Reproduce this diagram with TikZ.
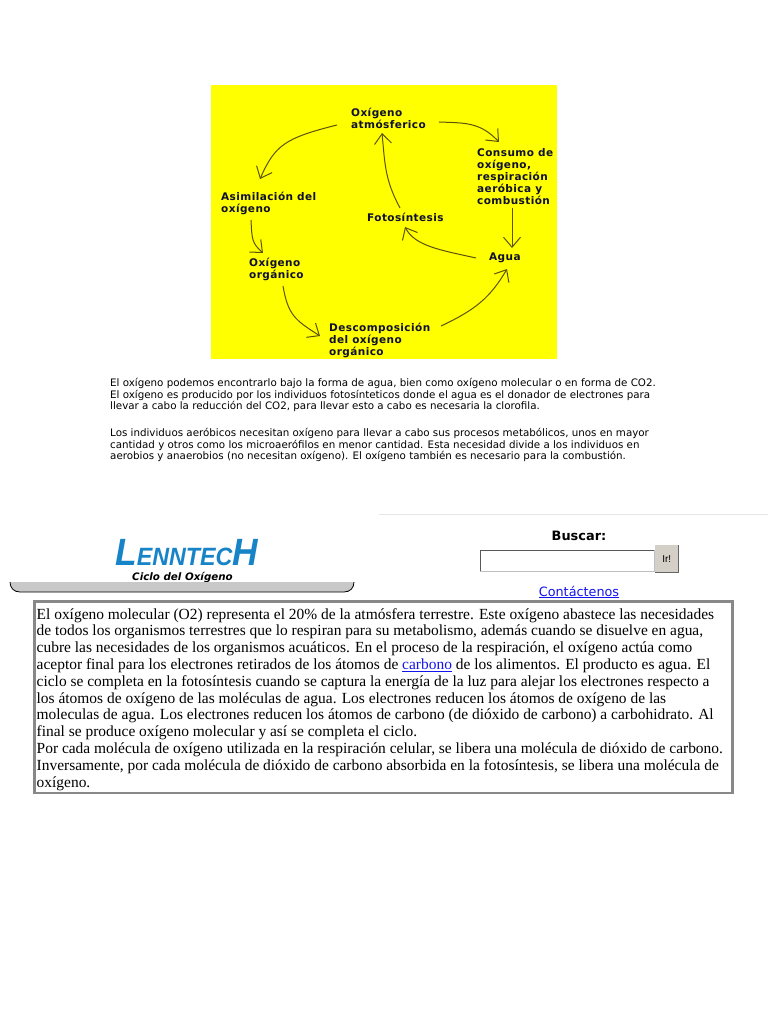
\documentclass[tikz,border=0pt]{standalone}
\usepackage{fontspec}
\usepackage{xcolor}
\usepackage{tikz}
\usetikzlibrary{arrows.meta,positioning,calc}
\setmainfont{Liberation Serif}
\newfontfamily\webfont{DejaVu Sans}
\newfontfamily\cyclefont[LetterSpace=4]{DejaVu Sans}
\newfontfamily\logofont{Liberation Sans}
\definecolor{cycleyellow}{RGB}{255,255,0}
\definecolor{cyclearrow}{RGB}{92,82,10}
\definecolor{cycletext}{RGB}{15,15,50}
\definecolor{logoblue}{RGB}{24,132,200}
\definecolor{linkblue}{RGB}{20,20,238}
\definecolor{barfill}{RGB}{200,200,200}
\definecolor{framegray}{RGB}{136,136,136}
\definecolor{buttonfill}{RGB}{212,208,200}

\begin{document}
\begin{tikzpicture}[x=1pt,y=-1pt,
    label/.style={anchor=north west, inner xsep=0pt, inner ysep=2pt, align=left, text=cycletext,
                  font=\fontsize{10.5}{12}\selectfont\cyclefont\bfseries},
    note/.style={anchor=north west, inner sep=0pt, align=left,
                 font=\fontsize{10.3}{11.6}\selectfont\webfont},
    arr/.style={-{Straight Barb[length=10pt,width=17pt]}, line width=1pt, cyclearrow}
]
    \useasboundingbox (0,0) rectangle (768,1024);
    \fill[white] (0,0) rectangle (768,1024);

    % cycle picture
    \node[draw=none, fill=cycleyellow, inner sep=0pt, minimum width=345.5pt, minimum height=274pt, anchor=north west] (panel) at (211,85) {};
    \node[label] (atmos) at (351,106) {Oxígeno\\atmósferico};
    \node[label] (consumo) at (477,146) {Consumo de\\oxígeno,\\respiración\\aeróbica y\\combustión};
    \node[label] (asim) at (221,190) {Asimilación del\\oxígeno};
    \node[label] (fotos) at (367,211) {Fotosíntesis};
    \node[label] (agua) at (489,251) {Agua};
    \node[label] (oxorg) at (249,256) {Oxígeno\\orgánico};
    \node[label] (descomp) at (329,321) {Descomposición\\del oxígeno\\orgánico};

    \draw[arr] ([shift={(-14,19)}]atmos.north west) .. controls (285,138) and (275,145) .. ([shift={(39,-11)}]asim.north west);
    \draw[arr] ([shift={(88,16)}]atmos.north west) .. controls (465,123) and (480,122) .. ([shift={(22,-4)}]consumo.north west);
    \draw[arr] ([shift={(33,-3)}]fotos.north west) .. controls (385,180) and (385,165) .. ([shift={(31,27)}]atmos.north west);
    \draw[arr] ([shift={(35,62)}]consumo.north west) -- ([shift={(23,-3)}]agua.north west);
    \draw[arr] ([shift={(-13,7)}]agua.north west) .. controls (440,250) and (415,246) .. ([shift={(38,16)}]fotos.north west);
    \draw[arr] ([shift={(30,30)}]asim.north west) .. controls (252,240) and (252,243) .. ([shift={(14,-3)}]oxorg.north west);
    \draw[arr] ([shift={(34,30)}]oxorg.north west) .. controls (288,315) and (295,320) .. ([shift={(-9,15)}]descomp.north west);
    \draw[arr] ([shift={(112,5)}]descomp.north west) .. controls (475,310) and (490,298) .. ([shift={(18,18)}]agua.north west);

    % notes below the picture
    \node[note] (notea) at (110,378) {El oxígeno podemos encontrarlo bajo la forma de agua, bien como oxígeno molecular o en forma de CO2.\\El oxígeno es producido por los individuos fotosínteticos donde el agua es el donador de electrones para\\llevar a cabo la reducción del CO2, para llevar esto a cabo es necesaria la clorofila.};
    \node[note] (noteb) at (110,428) {Los individuos aeróbicos necesitan oxígeno para llevar a cabo sus procesos metabólicos, unos en mayor\\cantidad y otros como los microaerófilos en menor cantidad. Esta necesidad divide a los individuos en\\aerobios y anaerobios (no necesitan oxígeno). El oxígeno también es necesario para la combustión.};

    % page header
    \draw[black!10, thick] (379,514) -- (768,514);
    \node[anchor=base west, inner sep=0pt, text=logoblue, font=\logofont\itshape\bfseries] (logo) at (115,565) {\scalebox{0.93}[1]{\fontsize{38}{38}\selectfont L\fontsize{25}{25}\selectfont ENNTEC\fontsize{38}{38}\selectfont H}};
    \node[anchor=center, inner sep=0pt, font=\fontsize{10.3}{11}\selectfont\webfont\itshape\bfseries] (title) at (182.5,577.5) {Ciclo del Oxígeno};
    \draw[fill=barfill, draw=none] (10,582) -- (354,582) .. controls (354,588) and (350,592) .. (344,592) -- (20,592) .. controls (14,592) and (10,588) .. (10,582) -- cycle;
    \draw[black, thick] (10,582) .. controls (10,588) and (14,592) .. (20,592) -- (344,592) .. controls (350,592) and (354,588) .. (354,582);

    \node[anchor=center, inner sep=0pt, font=\fontsize{12.9}{15}\selectfont\webfont\bfseries] (buscar) at (579,536) {Buscar:};
    \node[anchor=north west, draw=black!25, fill=white, inner sep=0pt, minimum width=174pt, minimum height=21pt] (entry) at (480,550) {};
    \draw[black!65, thick] (entry.south west) -- (entry.north west) -- (entry.north east);
    \node[anchor=north west, fill=buttonfill, inner sep=0pt, minimum width=23pt, minimum height=27pt, font=\fontsize{10}{11}\selectfont\logofont] (go) at (655,545) {Ir!};
    \draw[black!60, thick] (go.south west) -- (go.south east) -- (go.north east);
    \node[anchor=center, inner sep=0pt, text=linkblue, font=\fontsize{12.8}{15}\selectfont\webfont] (contact) at (579,592) {\underline{Contáctenos}};

    % text box
    \node[anchor=north west, draw=framegray, line width=2.5pt, inner sep=0pt, minimum width=698pt, minimum height=191.5pt] (frame) at (33,600) {};
    \node[anchor=north west, inner sep=0pt, align=left, font=\fontsize{15.45}{16.8}\selectfont] (body) at (36.5,608) {El oxígeno molecular (O2) representa el 20\% de la atmósfera terrestre. Este oxígeno abastece las necesidades\\de todos los organismos terrestres que lo respiran para su metabolismo, además cuando se disuelve en agua,\\cubre las necesidades de los organismos acuáticos. En el proceso de la respiración, el oxígeno actúa como\\aceptor final para los electrones retirados de los átomos de \textcolor{linkblue}{\underline{carbono}} de los alimentos. El producto es agua. El\\ciclo se completa en la fotosíntesis cuando se captura la energía de la luz para alejar los electrones respecto a\\los átomos de oxígeno de las moléculas de agua. Los electrones reducen los átomos de oxígeno de las\\moleculas de agua. Los electrones reducen los átomos de carbono (de dióxido de carbono) a carbohidrato. Al\\final se produce oxígeno molecular y así se completa el ciclo.\\Por cada molécula de oxígeno utilizada en la respiración celular, se libera una molécula de dióxido de carbono.\\Inversamente, por cada molécula de dióxido de carbono absorbida en la fotosíntesis, se libera una molécula de\\oxígeno.};
\end{tikzpicture}
\end{document}
